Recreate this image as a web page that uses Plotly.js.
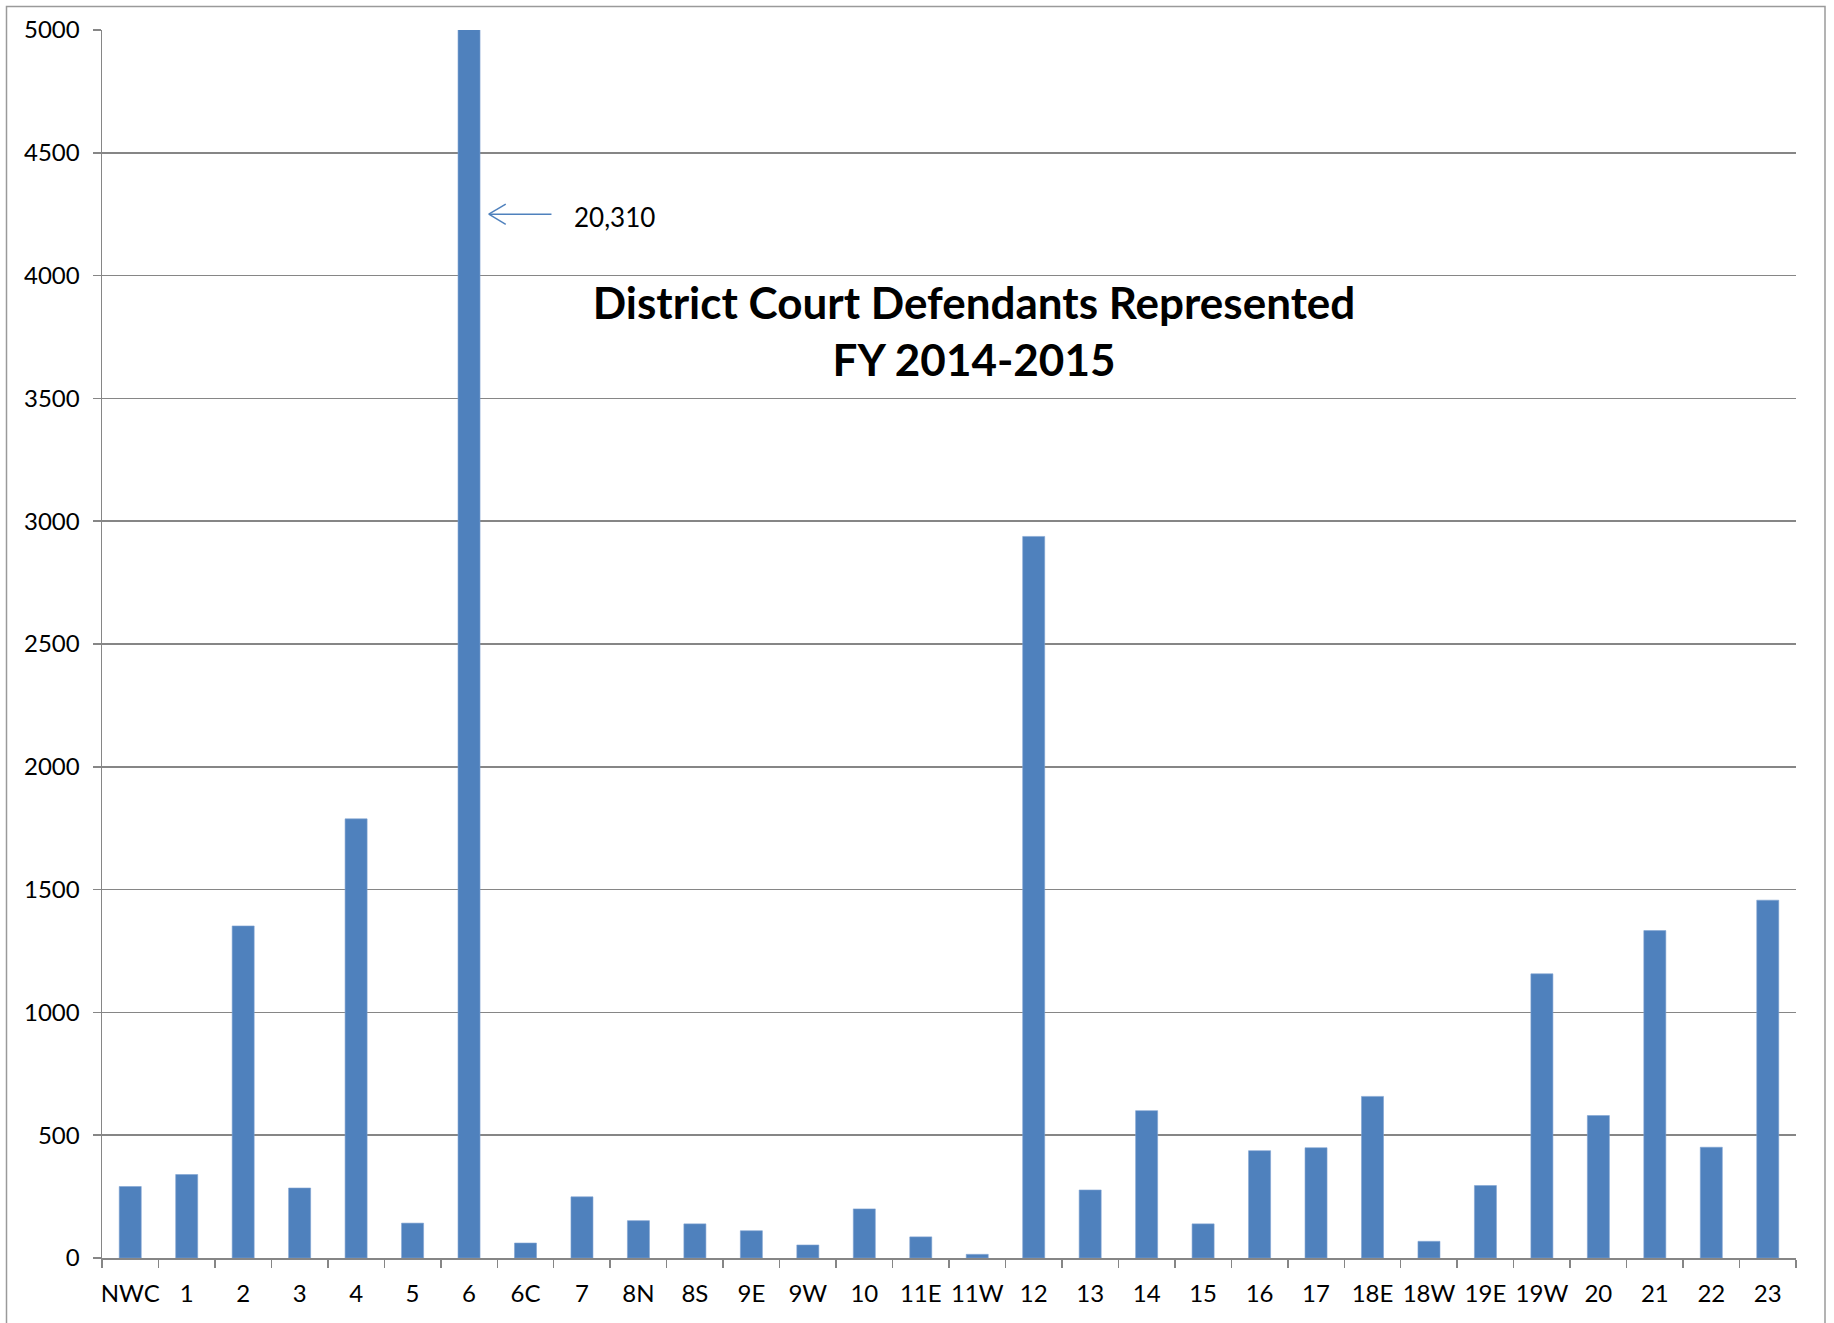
<!DOCTYPE html>
<html>
<head>
<meta charset="utf-8">
<script src="https://cdn.plot.ly/plotly-3.0.1.min.js"></script>
<style>
html,body{margin:0;padding:0;background:#fff;}
#chart{width:1834px;height:1323px;}
</style>
</head>
<body>
<div id="chart"></div>
<script>
const districts = ["NWC","1","2","3","4","5","6","6C","7","8N","8S","9E","9W","10","11E","11W","12","13","14","15","16","17","18E","18W","19E","19W","20","21","22","23"];
const defendants = [291,340,1352,285,1788,142,20310,61,249,152,139,111,53,200,86,15,2938,277,600,139,437,449,658,68,295,1157,580,1333,451,1457];
const yTicks = [0,500,1000,1500,2000,2500,3000,3500,4000,4500,5000];
const chartTitle = "District Court Defendants Represented<br>FY 2014-2015";
const calloutText = "20,310";

const barColor = "#4F81BD";
const gridColor = "#868686";
const fontFam = "Lato, 'Open Sans', sans-serif";

const trace = {
  type: "bar",
  x: districts,
  y: defendants,
  marker: {color: barColor, line: {color: "#7fa3d1", width: 0.6}},
  hoverinfo: "x+y"
};

const layout = {
  width: 1834,
  height: 1323,
  autosize: false,
  paper_bgcolor: "#ffffff",
  plot_bgcolor: "#ffffff",
  margin: {l: 102, r: 38, t: 30, b: 65, pad: 0},
  bargap: 0.61,
  showlegend: false,
  font: {family: fontFam, size: 24, color: "#000000"},
  title: {
    text: chartTitle,
    x: 974/1834,
    xanchor: "center",
    xref: "container",
    y: 1 - 319/1323,
    yanchor: "middle",
    yref: "container",
    font: {family: fontFam, size: 44, color: "#000000", weight: "bold"}
  },
  xaxis: {
    type: "category",
    categoryorder: "array",
    categoryarray: districts,
    showline: true,
    linecolor: gridColor,
    linewidth: 1.5,
    ticks: "outside",
    tickson: "boundaries",
    ticklen: 8,
    tickwidth: 1.5,
    tickcolor: gridColor,
    tickangle: 0,
    showgrid: false,
    zeroline: false,
    tickfont: {family: fontFam, size: 24, color: "#000"},
    ticklabelstandoff: 14,
    fixedrange: true
  },
  yaxis: {
    range: [0, 5000],
    tickvals: yTicks,
    ticktext: yTicks.map(String),
    showline: true,
    linecolor: gridColor,
    linewidth: 1.5,
    ticks: "outside",
    ticklen: 8,
    tickwidth: 1.5,
    tickcolor: gridColor,
    showgrid: true,
    gridcolor: gridColor,
    gridwidth: 1.5,
    zeroline: false,
    tickfont: {family: fontFam, size: 24, color: "#000"},
    ticklabelstandoff: 8,
    fixedrange: true
  },
  annotations: [
    {
      xref: "x", yref: "y",
      x: 7.82, y: 4240,
      xanchor: "left", yanchor: "middle",
      text: calloutText,
      showarrow: false,
      font: {family: fontFam, size: 26, color: "#000"}
    }
  ],
  shapes: [
    // callout arrow (shaft + open head)
    {type: "line", xref: "x", yref: "y", x0: 6.35, y0: 4250, x1: 7.46, y1: 4250, line: {color: barColor, width: 1.5}},
    {type: "line", xref: "x", yref: "y", x0: 6.35, y0: 4250, x1: 6.65, y1: 4291, line: {color: barColor, width: 1.5}},
    {type: "line", xref: "x", yref: "y", x0: 6.35, y0: 4250, x1: 6.65, y1: 4209, line: {color: barColor, width: 1.5}},
    // outer chart border
    {type: "rect", xref: "paper", yref: "paper",
     x0: (6.5-102)/1694, x1: (1825-102)/1694, y0: (1258-1340)/1228, y1: (1258-6.5)/1228,
     line: {color: "#9a9a9a", width: 1.5}, fillcolor: "rgba(0,0,0,0)", layer: "below"}
  ]
};

Plotly.newPlot("chart", [trace], layout, {staticPlot: true, displayModeBar: false});
</script>
</body>
</html>
